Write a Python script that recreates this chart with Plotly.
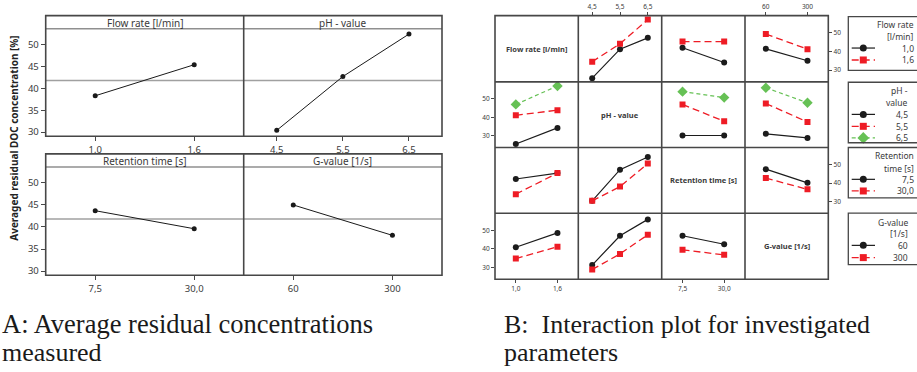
import plotly.graph_objects as go

W, H = 917, 372

# ---------------- data ----------------
flow_levels = ["1,0", "1,6"]
ph_levels = ["4,5", "5,5", "6,5"]
ret_levels = ["7,5", "30,0"]
g_levels = ["60", "300"]

flow_label = "Flow rate [l/min]"
ph_label = "pH - value"
ret_label = "Retention time [s]"
g_label = "G-value [1/s]"

# Panel A: main effects (averaged residual DOC concentration, %)
flow_means = [38.3, 45.4]
ph_means = [30.4, 42.7, 52.4]
ret_means = [43.7, 39.6]
g_means = [45.0, 38.1]
grand_mean = 41.8
yticks_A = [30, 35, 40, 45, 50]

# Panel B: interactions -> row factor gives the lines, column factor the x axis
flow_by_ph = {"1,0": [25.7, 41.2, 47.3], "1,6": [34.5, 44.1, 57.1]}
flow_by_ret = {"1,0": [42.0, 34.1], "1,6": [45.3, 45.3]}
flow_by_g = {"1,0": [41.4, 35.0], "1,6": [49.3, 41.2]}

ph_by_flow = {"4,5": [25.6, 34.3], "5,5": [41.1, 43.9], "6,5": [47.0, 57.0]}
ph_by_ret = {"4,5": [30.2, 30.2], "5,5": [47.0, 37.9], "6,5": [53.9, 50.7]}
ph_by_g = {"4,5": [31.1, 28.9], "5,5": [47.5, 37.5], "6,5": [56.0, 47.9]}

ret_by_flow = {"7,5": [42.2, 45.4], "30,0": [34.0, 45.4]}
ret_by_ph = {"7,5": [30.4, 47.2, 54.1], "30,0": [30.4, 38.1, 50.5]}
ret_by_g = {"7,5": [47.5, 40.1], "30,0": [42.7, 36.6]}

g_by_flow = {"60": [40.9, 48.6], "300": [34.8, 41.2]}
g_by_ph = {"60": [31.3, 47.1, 55.9], "300": [28.9, 37.3, 47.6]}
g_by_ret = {"60": [47.1, 42.5], "300": [39.5, 36.8]}
yticks_B = [30, 40, 50]

caption_A = ["A: Average residual concentrations", "measured"]
caption_B = ["B:  Interaction plot for investigated", "parameters"]
y_title = "Averaged residual DOC concentration [%]"

# ---------------- helpers ----------------
FONT = "Noto Sans"
SERIF = "Liberation Serif"
FRAME = "#474747"
TXT = "#3a3a3a"


def px(x):
    return x / W


def py(y):
    return 1 - y / H


fig = go.Figure()
layout = dict(
    width=W, height=H, margin=dict(l=0, r=0, t=0, b=0),
    paper_bgcolor="white", plot_bgcolor="rgba(0,0,0,0)",
    showlegend=False, font=dict(family=FONT, color=TXT),
)
shapes, annotations = [], []
axis_n = [0]


def new_axes(x0, x1, y0, y1, cats, yrange, xside=None, yside=None,
             tickfont=10, ticklen=4, yticks=None):
    axis_n[0] += 1
    k = axis_n[0]
    sx = "" if k == 1 else str(k)
    xa = dict(domain=[px(x0), px(x1)], anchor="y" + sx, type="category",
              categoryorder="array", categoryarray=cats,
              range=[-0.5, len(cats) - 0.5], showgrid=False, zeroline=False,
              showline=False, fixedrange=True)
    if xside:
        xa.update(side=xside, ticks="outside", ticklen=ticklen, tickcolor=FRAME,
                  tickwidth=1, showticklabels=True,
                  tickfont=dict(size=tickfont, color=TXT, family=FONT))
    else:
        xa.update(ticks="", showticklabels=False)
    ya = dict(domain=[py(y1), py(y0)], anchor="x" + sx, range=yrange,
              showgrid=False, zeroline=False, showline=False, fixedrange=True)
    if yside:
        ya.update(side=yside, ticks="outside", ticklen=ticklen, tickcolor=FRAME,
                  tickwidth=1, tickvals=yticks, showticklabels=True,
                  tickfont=dict(size=tickfont, color=TXT, family=FONT))
    else:
        ya.update(ticks="", showticklabels=False)
    layout["xaxis" + sx] = xa
    layout["yaxis" + sx] = ya
    return "x" + sx, "y" + sx


def line(x0, y0, x1, y1, color=FRAME, width=1.5):
    shapes.append(dict(type="line", xref="paper", yref="paper",
                       x0=px(x0), y0=py(y0), x1=px(x1), y1=py(y1),
                       line=dict(color=color, width=width)))


def text(x, y, s, size, color=TXT, family=FONT, xanchor="center", angle=0):
    annotations.append(dict(xref="paper", yref="paper", x=px(x), y=py(y),
                            text=s, showarrow=False, xanchor=xanchor,
                            yanchor="middle", textangle=angle,
                            font=dict(size=size, color=color, family=family)))


# ---------------- Panel A ----------------
colA = [(45.7, 243.7), (243.7, 442.0)]
rowA = [(15.7, 29.0, 137.0), (154.7, 168.0, 276.7)]  # frame top, strip bottom, plot bottom
yrA = [29.05, 53.6]
main_effects = [(flow_label, flow_levels, flow_means),
                (ph_label, ph_levels, ph_means),
                (ret_label, ret_levels, ret_means),
                (g_label, g_levels, g_means)]

row_y_refs = {}
for i, (name, levels, means) in enumerate(main_effects):
    r, c = divmod(i, 2)
    x0, x1 = colA[c]
    top, sb, bot = rowA[r]
    xr, yr = new_axes(x0, x1, sb, bot, levels, yrA, xside="bottom",
                      yside="left" if c == 0 else None, tickfont=9.5,
                      ticklen=4, yticks=yticks_A)
    row_y_refs.setdefault(r, yr)
    fig.add_trace(go.Scatter(x=levels, y=means, xaxis=xr, yaxis=yr,
                             mode="lines+markers",
                             line=dict(color="#1a1a1a", width=1),
                             marker=dict(size=5, color="#1a1a1a")))
    text((x0 + x1) / 2, (top + sb) / 2 + 0.5, name, 10)

for r, (top, sb, bot) in enumerate(rowA):
    # grand mean reference line
    shapes.append(dict(type="line", xref="paper", yref=row_y_refs[r],
                       x0=px(colA[0][0]), x1=px(colA[1][1]),
                       y0=grand_mean, y1=grand_mean,
                       line=dict(color="#a0a0a0", width=1.5), layer="below"))
    line(colA[0][0], sb, colA[1][1], sb, color="#8f8f8f", width=1.5)
    shapes.append(dict(type="rect", xref="paper", yref="paper",
                       x0=px(colA[0][0]), x1=px(colA[1][1]), y0=py(bot), y1=py(top),
                       line=dict(color=FRAME, width=1.6)))
    line(colA[0][1], top, colA[0][1], bot, width=1.6)

text(14.5, 139, "<b>" + y_title + "</b>", 10, color="#222", angle=-90)

# ---------------- Panel B ----------------
xsB = [495.0, 578.3, 661.7, 745.0, 828.3]
ysB = [15.7, 82.3, 148.3, 214.4, 280.7]
yrB = [23.7, 59.2]
factors = [(flow_label, flow_levels), (ph_label, ph_levels),
           (ret_label, ret_levels), (g_label, g_levels)]
cells = {
    (0, 1): flow_by_ph, (0, 2): flow_by_ret, (0, 3): flow_by_g,
    (1, 0): ph_by_flow, (1, 2): ph_by_ret, (1, 3): ph_by_g,
    (2, 0): ret_by_flow, (2, 1): ret_by_ph, (2, 3): ret_by_g,
    (3, 0): g_by_flow, (3, 1): g_by_ph, (3, 2): g_by_ret,
}
styles = [
    dict(color="#1c1c1c", symbol="circle", dash="solid", size=6, width=1.2),
    dict(color="#ee1c25", symbol="square", dash="7px,4px", size=6, width=1.3),
    dict(color="#66c155", symbol="diamond", dash="4px,3px", size=8, width=1.2),
]

for r in range(4):
    for c in range(4):
        x0, x1 = xsB[c], xsB[c + 1]
        y0, y1 = ysB[r], ysB[r + 1]
        if r == c:
            text((x0 + x1) / 2, (y0 + y1) / 2, "<b>" + factors[r][0] + "</b>", 7.5,
                 color="#3a3a3a")
            continue
        xside = None
        if r == 0 and c in (1, 3):
            xside = "top"
        if r == 3 and c in (0, 2):
            xside = "bottom"
        yside = None
        if c == 0 and r in (1, 3):
            yside = "left"
        if c == 3 and r in (0, 2):
            yside = "right"
        xcats = factors[c][1]
        xr, yr = new_axes(x0, x1, y0, y1, xcats, yrB, xside=xside, yside=yside,
                          tickfont=6.5, ticklen=3, yticks=yticks_B)
        data = cells[(r, c)]
        for k, lvl in enumerate(factors[r][1]):
            st = styles[k]
            fig.add_trace(go.Scatter(x=xcats, y=data[lvl], xaxis=xr, yaxis=yr,
                                     mode="lines+markers",
                                     line=dict(color=st["color"], width=st["width"],
                                               dash=st["dash"]),
                                     marker=dict(symbol=st["symbol"], size=st["size"],
                                                 color=st["color"])))

shapes.append(dict(type="rect", xref="paper", yref="paper",
                   x0=px(xsB[0]), x1=px(xsB[-1]), y0=py(ysB[-1]), y1=py(ysB[0]),
                   line=dict(color=FRAME, width=1.6)))
for xv in xsB[1:-1]:
    line(xv, ysB[0], xv, ysB[-1], width=1.6)
for yv in ysB[1:-1]:
    line(xsB[0], yv, xsB[-1], yv, width=1.6)

# ---------------- Legends (right side) ----------------
axis_n[0] += 1
ko = str(axis_n[0])
layout["xaxis" + ko] = dict(domain=[0, 1], range=[0, W], visible=False, fixedrange=True)
layout["yaxis" + ko] = dict(domain=[0, 1], range=[H, 0], visible=False, fixedrange=True,
                            anchor="x" + ko)

legend_boxes = [
    (16.7, 70.7, ["Flow rate", "[l/min]"], [25.0, 36.7], flow_levels, [48.3, 60.3], 916),
    (82.7, 143.5, ["pH -", "value"], [91.0, 102.7], ph_levels, [115.0, 127.0, 138.7], 910),
    (148.3, 199.0, ["Retention", "time [s]"], [156.7, 169.0], ret_levels, [180.3, 192.0], 916),
    (214.3, 266.0, ["G-value", "[1/s]"], [223.3, 234.3], g_levels, [246.7, 259.0], 910),
]
for top, bot, titles, tys, levels, iys, xr_ in legend_boxes:
    shapes.append(dict(type="rect", xref="paper", yref="paper",
                       x0=px(848.3), x1=px(935), y0=py(bot), y1=py(top),
                       line=dict(color=FRAME, width=1.3)))
    for t, ty in zip(titles, tys):
        text(xr_, ty, t, 8.5, xanchor="right")
    for k, (lvl, iy) in enumerate(zip(levels, iys)):
        st = styles[k]
        fig.add_trace(go.Scatter(x=[851.7, 875.0], y=[iy, iy], xaxis="x" + ko, yaxis="y" + ko,
                                 mode="lines",
                                 line=dict(color=st["color"], width=st["width"],
                                           dash=st["dash"])))
        fig.add_trace(go.Scatter(x=[863.3], y=[iy], xaxis="x" + ko, yaxis="y" + ko,
                                 mode="markers",
                                 marker=dict(symbol=st["symbol"], size=st["size"] + 1,
                                             color=st["color"])))
        text(xr_, iy, lvl, 8.5, xanchor="right")

# ---------------- Captions ----------------
text(0, 326, caption_A[0], 26.5, color="#1a1a1a", family=SERIF, xanchor="left")
text(0, 354, caption_A[1], 26, color="#1a1a1a", family=SERIF, xanchor="left")
text(501.7, 326, caption_B[0], 26, color="#1a1a1a", family=SERIF, xanchor="left")
text(501.7, 354, caption_B[1], 26, color="#1a1a1a", family=SERIF, xanchor="left")

layout["shapes"] = shapes
layout["annotations"] = annotations
fig.update_layout(**layout)
fig.write_html("out.html",
               config={"displayModeBar": False, "staticPlot": True},
               post_script="document.body.style.margin='0';"
                           "document.body.style.overflow='hidden';")
